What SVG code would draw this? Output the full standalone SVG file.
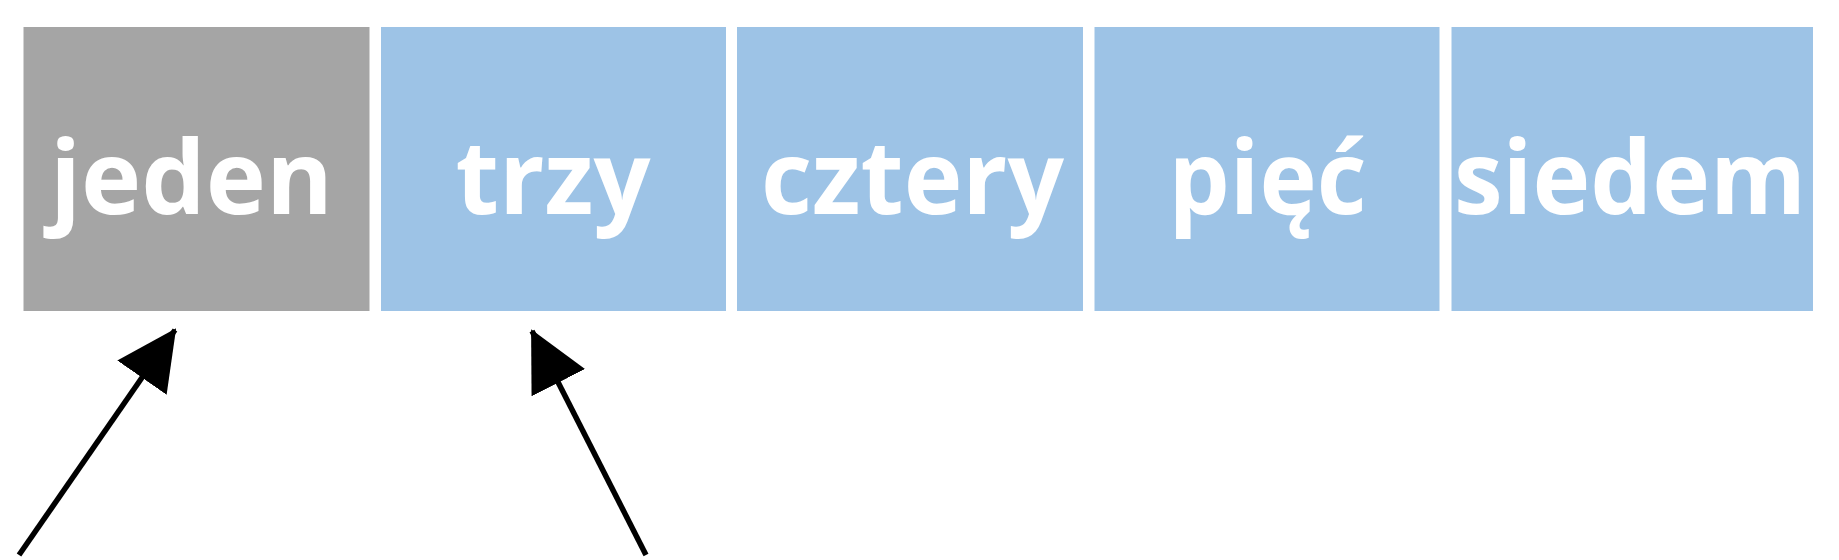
<svg xmlns="http://www.w3.org/2000/svg" width="1839" height="560" viewBox="0 0 1839 560">
<style>
.box{stroke:none}
.gray{fill:#A5A5A5}
.blue{fill:#9DC3E6}
.lbl{font-family:"Open Sans","Liberation Sans",sans-serif;font-weight:bold;font-size:103px;fill:#FFFFFF;text-anchor:middle}
.arrow{stroke:#000000;stroke-width:5.5;fill:none;marker-end:url(#head)}
</style>
<defs>
<marker id="head" markerUnits="userSpaceOnUse" viewBox="0 0 60 60" markerWidth="60" markerHeight="60" refX="58" refY="30" orient="auto">
<path d="M0,0 L60,30 L0,60 Z" fill="#000000"/>
</marker>
</defs>
<rect width="1839" height="560" fill="#FFFFFF"/>
<g id="node-jeden"><rect class="box gray" x="23.5" y="27" width="346" height="284"/><text class="lbl" x="191.5" y="214" textLength="283" lengthAdjust="spacingAndGlyphs">jeden</text></g>
<g id="node-trzy"><rect class="box blue" x="381" y="27" width="345" height="284"/><text class="lbl" x="553" y="214" textLength="195" lengthAdjust="spacingAndGlyphs">trzy</text></g>
<g id="node-cztery"><rect class="box blue" x="737" y="27" width="346" height="284"/><text class="lbl" x="912.5" y="214" textLength="303" lengthAdjust="spacingAndGlyphs">cztery</text></g>
<g id="node-piec"><rect class="box blue" x="1094.5" y="27" width="345" height="284"/><text class="lbl" x="1267.5" y="214" textLength="198" lengthAdjust="spacingAndGlyphs">pięć</text></g>
<g id="node-siedem"><rect class="box blue" x="1451.5" y="27" width="361.5" height="284"/><text class="lbl" x="1630" y="214" textLength="352" lengthAdjust="spacingAndGlyphs">siedem</text></g>
<g id="connectors">
<line class="arrow" x1="19" y1="555" x2="175" y2="330"/>
<line class="arrow" x1="646" y1="555" x2="532" y2="331"/>
</g>
</svg>
